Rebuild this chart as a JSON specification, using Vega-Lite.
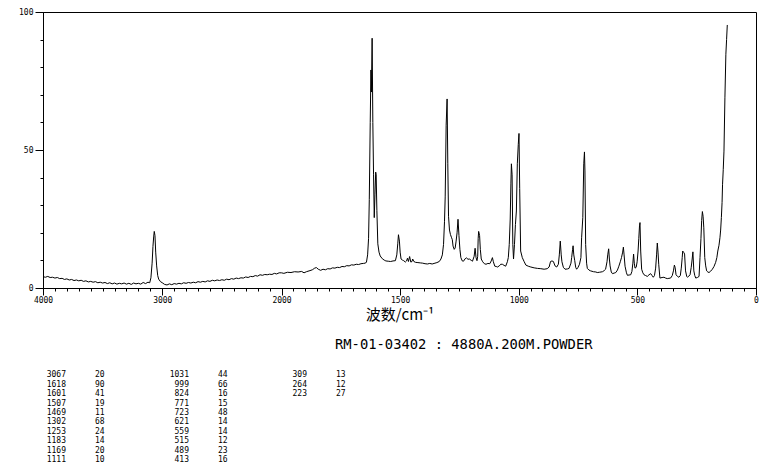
{
  "$schema": "https://vega.github.io/schema/vega-lite/v6.json",
  "background": "white",
  "padding": {"left": 18, "top": 7, "right": 10, "bottom": 5},
  "spacing": 14.5,
  "config": {
    "font": "DejaVu Sans Mono",
    "axis": {"domainColor": "black", "labelColor": "black", "titleColor": "black", "labelFont": "DejaVu Sans Mono", "labelFontSize": 8, "domainWidth": 1, "grid": false, "ticks": true, "zindex": 1}
  },
  "datasets": {
    "spectrum": [
      {"wn":4000,"val":4.1},{"wn":3980,"val":3.9},{"wn":3960,"val":4.2},{"wn":3940,"val":3.8},{"wn":3920,"val":3.9},{"wn":3900,"val":3.6},{"wn":3880,"val":3.8},{"wn":3860,"val":3.4},{"wn":3840,"val":3.5},{"wn":3820,"val":3.1},{"wn":3800,"val":3.3},{"wn":3780,"val":2.9},{"wn":3760,"val":3.1},{"wn":3740,"val":2.7},{"wn":3720,"val":2.9},{"wn":3700,"val":2.6},{"wn":3680,"val":2.8},{"wn":3660,"val":2.4},{"wn":3640,"val":2.6},{"wn":3620,"val":2.2},{"wn":3600,"val":2.4},{"wn":3580,"val":2.1},{"wn":3560,"val":2.3},{"wn":3540,"val":1.9},{"wn":3520,"val":2.1},{"wn":3500,"val":1.8},{"wn":3480,"val":2.0},{"wn":3460,"val":1.6},{"wn":3440,"val":1.9},{"wn":3420,"val":1.5},{"wn":3400,"val":1.8},{"wn":3380,"val":1.4},{"wn":3360,"val":1.7},{"wn":3340,"val":1.5},{"wn":3320,"val":1.8},{"wn":3300,"val":1.4},{"wn":3280,"val":1.7},{"wn":3260,"val":1.3},{"wn":3240,"val":1.8},{"wn":3220,"val":1.5},{"wn":3200,"val":1.7},{"wn":3180,"val":1.4},{"wn":3160,"val":2.0},{"wn":3140,"val":1.6},{"wn":3120,"val":2.1},{"wn":3105,"val":1.9},{"wn":3095,"val":3.7},{"wn":3085,"val":9},{"wn":3078,"val":15},{"wn":3072,"val":18.5},{"wn":3067,"val":20.5},{"wn":3061,"val":19},{"wn":3055,"val":13},{"wn":3047,"val":8},{"wn":3038,"val":4.5},{"wn":3030,"val":3.2},{"wn":3015,"val":2.3},{"wn":3000,"val":1.9},{"wn":2980,"val":1.3},{"wn":2960,"val":1.1},{"wn":2940,"val":1.5},{"wn":2920,"val":1.2},{"wn":2900,"val":1.6},{"wn":2880,"val":1.4},{"wn":2860,"val":1.7},{"wn":2840,"val":1.5},{"wn":2820,"val":1.9},{"wn":2800,"val":1.7},{"wn":2780,"val":2.0},{"wn":2760,"val":1.8},{"wn":2740,"val":2.1},{"wn":2720,"val":1.9},{"wn":2700,"val":2.3},{"wn":2680,"val":2.1},{"wn":2660,"val":2.4},{"wn":2640,"val":2.2},{"wn":2620,"val":2.6},{"wn":2600,"val":2.4},{"wn":2580,"val":2.8},{"wn":2560,"val":2.6},{"wn":2540,"val":2.9},{"wn":2520,"val":2.7},{"wn":2500,"val":3.0},{"wn":2480,"val":2.8},{"wn":2460,"val":3.2},{"wn":2440,"val":3.0},{"wn":2420,"val":3.4},{"wn":2400,"val":3.2},{"wn":2380,"val":3.6},{"wn":2360,"val":3.4},{"wn":2340,"val":3.7},{"wn":2320,"val":3.6},{"wn":2300,"val":4.0},{"wn":2280,"val":3.8},{"wn":2260,"val":4.2},{"wn":2240,"val":4.1},{"wn":2220,"val":4.5},{"wn":2200,"val":4.3},{"wn":2180,"val":4.8},{"wn":2160,"val":4.6},{"wn":2140,"val":4.9},{"wn":2120,"val":4.8},{"wn":2100,"val":5.0},{"wn":2080,"val":4.9},{"wn":2060,"val":5.3},{"wn":2040,"val":5.1},{"wn":2020,"val":5.5},{"wn":2000,"val":5.5},
      {"wn":1990,"val":5.3},{"wn":1975,"val":5.7},{"wn":1960,"val":5.6},{"wn":1945,"val":5.9},{"wn":1930,"val":5.8},{"wn":1915,"val":6.0},{"wn":1905,"val":5.5},{"wn":1895,"val":5.9},{"wn":1880,"val":6.3},{"wn":1870,"val":6.6},{"wn":1860,"val":7.2},{"wn":1853,"val":7.4},{"wn":1845,"val":6.8},{"wn":1835,"val":6.4},{"wn":1825,"val":6.8},{"wn":1815,"val":6.6},{"wn":1805,"val":7.0},{"wn":1795,"val":6.9},{"wn":1785,"val":7.3},{"wn":1775,"val":7.2},{"wn":1765,"val":7.5},{"wn":1755,"val":7.4},{"wn":1745,"val":7.8},{"wn":1735,"val":7.7},{"wn":1725,"val":8.1},{"wn":1715,"val":8.0},{"wn":1705,"val":8.4},{"wn":1695,"val":8.3},{"wn":1685,"val":8.6},{"wn":1675,"val":8.5},{"wn":1665,"val":8.8},{"wn":1655,"val":8.9},{"wn":1648,"val":9.0},{"wn":1642,"val":9.3},{"wn":1637,"val":12},{"wn":1633,"val":18},{"wn":1630,"val":32},{"wn":1626,"val":60},{"wn":1623,"val":79},{"wn":1621,"val":71},{"wn":1618,"val":90.5},{"wn":1615,"val":60},{"wn":1612,"val":41},{"wn":1609,"val":25.5},{"wn":1606,"val":34},{"wn":1603,"val":42},{"wn":1601,"val":41},{"wn":1598,"val":28},{"wn":1594,"val":16},{"wn":1589,"val":13},{"wn":1584,"val":11.6},{"wn":1575,"val":10.6},{"wn":1567,"val":10.1},{"wn":1560,"val":9.8},{"wn":1550,"val":9.7},{"wn":1540,"val":9.6},{"wn":1530,"val":9.8},{"wn":1520,"val":9.9},{"wn":1514,"val":12},{"wn":1510,"val":16},{"wn":1507,"val":19.3},{"wn":1503,"val":17},{"wn":1500,"val":13},{"wn":1496,"val":10.5},{"wn":1490,"val":10.1},{"wn":1485,"val":9.9},{"wn":1478,"val":9.4},{"wn":1473,"val":9.8},{"wn":1469,"val":10.8},{"wn":1465,"val":9.6},{"wn":1460,"val":11.4},{"wn":1455,"val":9.4},{"wn":1450,"val":9.6},{"wn":1447,"val":10.5},{"wn":1442,"val":9.6},{"wn":1435,"val":9.3},{"wn":1425,"val":9.2},{"wn":1415,"val":9.1},{"wn":1405,"val":9.0},{"wn":1395,"val":8.8},{"wn":1385,"val":8.7},{"wn":1375,"val":8.9},{"wn":1365,"val":8.7},{"wn":1357,"val":8.9},{"wn":1345,"val":9.2},{"wn":1335,"val":9.6},{"wn":1328,"val":10.5},{"wn":1322,"val":12},{"wn":1317,"val":15.8},{"wn":1313,"val":24},{"wn":1310,"val":33},{"wn":1306,"val":59},{"wn":1302,"val":68.5},{"wn":1299,"val":45},{"wn":1296,"val":26},{"wn":1292,"val":21},{"wn":1288,"val":19.4},{"wn":1283,"val":18.2},{"wn":1280,"val":17.5},{"wn":1277,"val":15.2},{"wn":1272,"val":14},{"wn":1268,"val":14.5},{"wn":1264,"val":17},{"wn":1260,"val":20},{"wn":1256,"val":24.9},{"wn":1252,"val":19},{"wn":1248,"val":14},{"wn":1244,"val":11},{"wn":1238,"val":9.8},{"wn":1233,"val":9.7},{"wn":1226,"val":10.6},{"wn":1220,"val":10.9},{"wn":1214,"val":10.4},{"wn":1208,"val":10.5},{"wn":1200,"val":10.0},{"wn":1195,"val":9.7},{"wn":1188,"val":11.5},{"wn":1184,"val":14.4},{"wn":1180,"val":11},{"wn":1176,"val":9.9},{"wn":1173,"val":11.5},{"wn":1171,"val":18},{"wn":1169,"val":20.5},{"wn":1165,"val":19},{"wn":1162,"val":14},{"wn":1158,"val":10.5},{"wn":1152,"val":9.5},{"wn":1145,"val":8.8},{"wn":1138,"val":8.6},{"wn":1130,"val":8.9},{"wn":1122,"val":8.8},{"wn":1116,"val":9.8},{"wn":1111,"val":11},{"wn":1107,"val":9.5},{"wn":1101,"val":7.9},{"wn":1095,"val":7.8},{"wn":1090,"val":7.6},{"wn":1082,"val":8.0},{"wn":1076,"val":8.6},{"wn":1069,"val":8.6},{"wn":1062,"val":8.2},{"wn":1055,"val":7.9},{"wn":1048,"val":9.5},{"wn":1044,"val":11},{"wn":1040,"val":15.8},{"wn":1036,"val":25},{"wn":1033,"val":38},{"wn":1031,"val":45},{"wn":1028,"val":41},{"wn":1025,"val":15.8},{"wn":1022,"val":10.5},{"wn":1018,"val":15.8},{"wn":1014,"val":23},{"wn":1010,"val":27.9},{"wn":1006,"val":45},{"wn":1002,"val":52},{"wn":999,"val":56},{"wn":996,"val":36},{"wn":992,"val":13.4},{"wn":985,"val":11},{"wn":977,"val":9.5},{"wn":970,"val":8.3},{"wn":960,"val":7.9},{"wn":949,"val":7.6},{"wn":935,"val":7.3},{"wn":921,"val":7.1},{"wn":907,"val":7.0},{"wn":893,"val":6.8},{"wn":880,"val":7.0},{"wn":872,"val":7.6},{"wn":866,"val":9.6},{"wn":860,"val":9.8},{"wn":854,"val":9.6},{"wn":847,"val":8.0},{"wn":840,"val":7.6},{"wn":833,"val":8.6},{"wn":829,"val":12},{"wn":825,"val":17},{"wn":821,"val":12},{"wn":818,"val":9.5},{"wn":812,"val":7.5},{"wn":805,"val":6.8},{"wn":795,"val":6.9},{"wn":788,"val":7.1},{"wn":780,"val":9},{"wn":777,"val":11},{"wn":773,"val":14},{"wn":771,"val":15.3},{"wn":768,"val":12},{"wn":764,"val":9.9},{"wn":760,"val":7.5},{"wn":756,"val":6.8},{"wn":750,"val":7.5},{"wn":744,"val":8.6},{"wn":738,"val":11},{"wn":735,"val":18.2},{"wn":730,"val":25.5},{"wn":726,"val":45},{"wn":723,"val":49.3},{"wn":721,"val":42.4},{"wn":718,"val":15.8},{"wn":714,"val":9},{"wn":711,"val":7.1},{"wn":704,"val":6.5},{"wn":697,"val":6.2},{"wn":685,"val":5.9},{"wn":675,"val":5.8},{"wn":669,"val":5.6},{"wn":660,"val":5.7},{"wn":647,"val":5.9},{"wn":640,"val":6.3},{"wn":634,"val":6.8},{"wn":628,"val":9.5},{"wn":625,"val":12},{"wn":621,"val":14.2},{"wn":618,"val":10.5},{"wn":615,"val":8},{"wn":610,"val":5.8},{"wn":605,"val":5.2},{"wn":598,"val":5.4},{"wn":591,"val":5.6},{"wn":584,"val":6.5},{"wn":578,"val":7.9},{"wn":572,"val":9.5},{"wn":567,"val":11},{"wn":562,"val":13},{"wn":559,"val":14.8},{"wn":556,"val":12},{"wn":552,"val":7.9},{"wn":546,"val":5.5},{"wn":542,"val":4.6},{"wn":535,"val":4.7},{"wn":528,"val":4.8},{"wn":523,"val":6},{"wn":519,"val":9},{"wn":516,"val":12.3},{"wn":513,"val":9},{"wn":510,"val":7.2},{"wn":505,"val":7.5},{"wn":501,"val":9.5},{"wn":497,"val":13.4},{"wn":494,"val":18},{"wn":491,"val":22.5},{"wn":489,"val":23.7},{"wn":486,"val":13.4},{"wn":482,"val":6.8},{"wn":477,"val":5.5},{"wn":472,"val":4.8},{"wn":465,"val":4.5},{"wn":458,"val":4.2},{"wn":451,"val":4.8},{"wn":444,"val":5.2},{"wn":438,"val":4.5},{"wn":433,"val":3.9},{"wn":428,"val":4.5},{"wn":423,"val":7.2},{"wn":419,"val":12},{"wn":416,"val":16.3},{"wn":413,"val":13},{"wn":410,"val":8.6},{"wn":405,"val":3.6},{"wn":396,"val":3.8},{"wn":388,"val":3.9},{"wn":381,"val":3.6},{"wn":374,"val":3.4},{"wn":367,"val":3.5},{"wn":360,"val":3.6},{"wn":353,"val":4.5},{"wn":348,"val":6.2},{"wn":344,"val":8.3},{"wn":341,"val":7.5},{"wn":337,"val":4.8},{"wn":331,"val":4.2},{"wn":325,"val":3.9},{"wn":319,"val":4.5},{"wn":315,"val":7.2},{"wn":311,"val":11},{"wn":309,"val":13.4},{"wn":304,"val":12.8},{"wn":301,"val":12.3},{"wn":297,"val":6.2},{"wn":292,"val":4.2},{"wn":289,"val":3.9},{"wn":283,"val":4.3},{"wn":278,"val":4.8},{"wn":273,"val":7.5},{"wn":269,"val":10.5},{"wn":266,"val":13.1},{"wn":262,"val":6.2},{"wn":258,"val":4.5},{"wn":254,"val":3.6},{"wn":247,"val":3.8},{"wn":240,"val":4.2},{"wn":236,"val":11},{"wn":232,"val":18},{"wn":229,"val":24.5},{"wn":226,"val":27.7},{"wn":223,"val":26},{"wn":220,"val":21.8},{"wn":216,"val":11},{"wn":212,"val":8},{"wn":208,"val":6.2},{"wn":203,"val":5.8},{"wn":198,"val":5.6},{"wn":191,"val":6.1},{"wn":184,"val":6.8},{"wn":177,"val":7.8},{"wn":170,"val":9.3},{"wn":165,"val":11},{"wn":161,"val":13.4},{"wn":156,"val":15.5},{"wn":152,"val":18.2},{"wn":149,"val":21},{"wn":146,"val":25.5},{"wn":143,"val":31},{"wn":141,"val":37.6},{"wn":138,"val":43},{"wn":135,"val":49.6},{"wn":131,"val":68.9},{"wn":127,"val":84.7},{"wn":124,"val":90},{"wn":121,"val":95.3}
    ],
    "peaks": [
      {"col":1,"row":1,"wn":"3067","int":"20"},{"col":1,"row":2,"wn":"1618","int":"90"},{"col":1,"row":3,"wn":"1601","int":"41"},{"col":1,"row":4,"wn":"1507","int":"19"},{"col":1,"row":5,"wn":"1469","int":"11"},{"col":1,"row":6,"wn":"1302","int":"68"},{"col":1,"row":7,"wn":"1253","int":"24"},{"col":1,"row":8,"wn":"1183","int":"14"},{"col":1,"row":9,"wn":"1169","int":"20"},{"col":1,"row":10,"wn":"1111","int":"10"},
      {"col":2,"row":1,"wn":"1031","int":"44"},{"col":2,"row":2,"wn":"999","int":"66"},{"col":2,"row":3,"wn":"824","int":"16"},{"col":2,"row":4,"wn":"771","int":"15"},{"col":2,"row":5,"wn":"723","int":"48"},{"col":2,"row":6,"wn":"621","int":"14"},{"col":2,"row":7,"wn":"559","int":"14"},{"col":2,"row":8,"wn":"515","int":"12"},{"col":2,"row":9,"wn":"489","int":"23"},{"col":2,"row":10,"wn":"413","int":"16"},
      {"col":3,"row":1,"wn":"309","int":"13"},{"col":3,"row":2,"wn":"264","int":"12"},{"col":3,"row":3,"wn":"223","int":"27"}
    ]
  },
  "vconcat": [
    {
      "width": 713,
      "height": 276,
      "data": {"name": "spectrum"},
      "view": {"stroke": "black", "strokeWidth": 1},
      "layer": [
        {
          "mark": {"type": "line", "color": "black", "strokeWidth": 1},
          "encoding": {
            "x": {"field": "wn", "type": "quantitative", "sort": null,
              "scale": {"domain": [4000, 2000, 0], "range": [0, 238.5, 713], "nice": false, "zero": false},
              "axis": {"orient": "bottom", "values": [4000, 3000, 2000, 1500, 1000, 500, 0], "format": "d", "ticks": true, "zindex": 1, "tickSize": 7, "tickColor": "black", "tickWidth": 1, "labelPadding": 1, "labelFlush": false,
                "title": "波数/cm⁻¹", "titleFont": "Noto Sans CJK SC", "titleFontSize": 15, "titleFontWeight": "normal", "titlePadding": 3}},
            "y": {"field": "val", "type": "quantitative",
              "scale": {"domain": [0, 100], "nice": false, "zero": false},
              "axis": {"orient": "left", "values": [0, 50, 100], "ticks": true, "zindex": 1, "tickSize": 8, "tickColor": "black", "tickWidth": 1, "labelPadding": 2, "title": null}}
          }
        },
        {
          "mark": {"type": "line", "strokeOpacity": 0},
          "encoding": {
            "x": {"field": "wn", "type": "quantitative",
              "axis": {"orient": "bottom", "values": [4000,3900,3800,3700,3600,3500,3400,3300,3200,3100,3000,2900,2800,2700,2600,2500,2400,2300,2200,2100,2000,1950,1900,1850,1800,1750,1700,1650,1600,1550,1500,1450,1400,1350,1300,1250,1200,1150,1100,1050,1000,950,900,850,800,750,700,650,600,550,500,450,400,350,300,250,200,150,100,50,0], "ticks": true, "zindex": 1, "tickSize": 3, "tickColor": "black", "tickWidth": 1, "labels": false, "domain": false, "title": null}},
            "y": {"field": "val", "type": "quantitative",
              "axis": {"orient": "left", "values": [0,10,20,30,40,50,60,70,80,90,100], "ticks": true, "zindex": 1, "tickSize": 3, "tickColor": "black", "tickWidth": 1, "labels": false, "domain": false, "title": null}}
          }
        }
      ],
      "resolve": {"axis": {"x": "independent", "y": "independent"}}
    },
    {
      "width": 713,
      "height": {"step": 9.44},
      "data": {"name": "peaks"},
      "view": {"stroke": null},
      "title": {"text": "RM-01-03402 : 4880A.200M.POWDER", "font": "DejaVu Sans Mono", "fontSize": 13.8, "fontWeight": "normal", "color": "black", "anchor": "start", "frame": "group", "dx": 292, "offset": 4.5, "baseline": "bottom"},
      "encoding": {
        "x": {"field": "col", "type": "quantitative", "scale": {"domain": [1, 2, 3], "range": [23, 146, 264]}, "axis": null},
        "y": {"field": "row", "type": "ordinal", "axis": null}
      },
      "layer": [
        {"mark": {"type": "text", "align": "right", "font": "DejaVu Sans Mono", "fontSize": 8, "color": "black"}, "encoding": {"text": {"field": "wn"}}},
        {"mark": {"type": "text", "align": "left", "dx": 29, "font": "DejaVu Sans Mono", "fontSize": 8, "color": "black"}, "encoding": {"text": {"field": "int"}}}
      ]
    }
  ]
}
